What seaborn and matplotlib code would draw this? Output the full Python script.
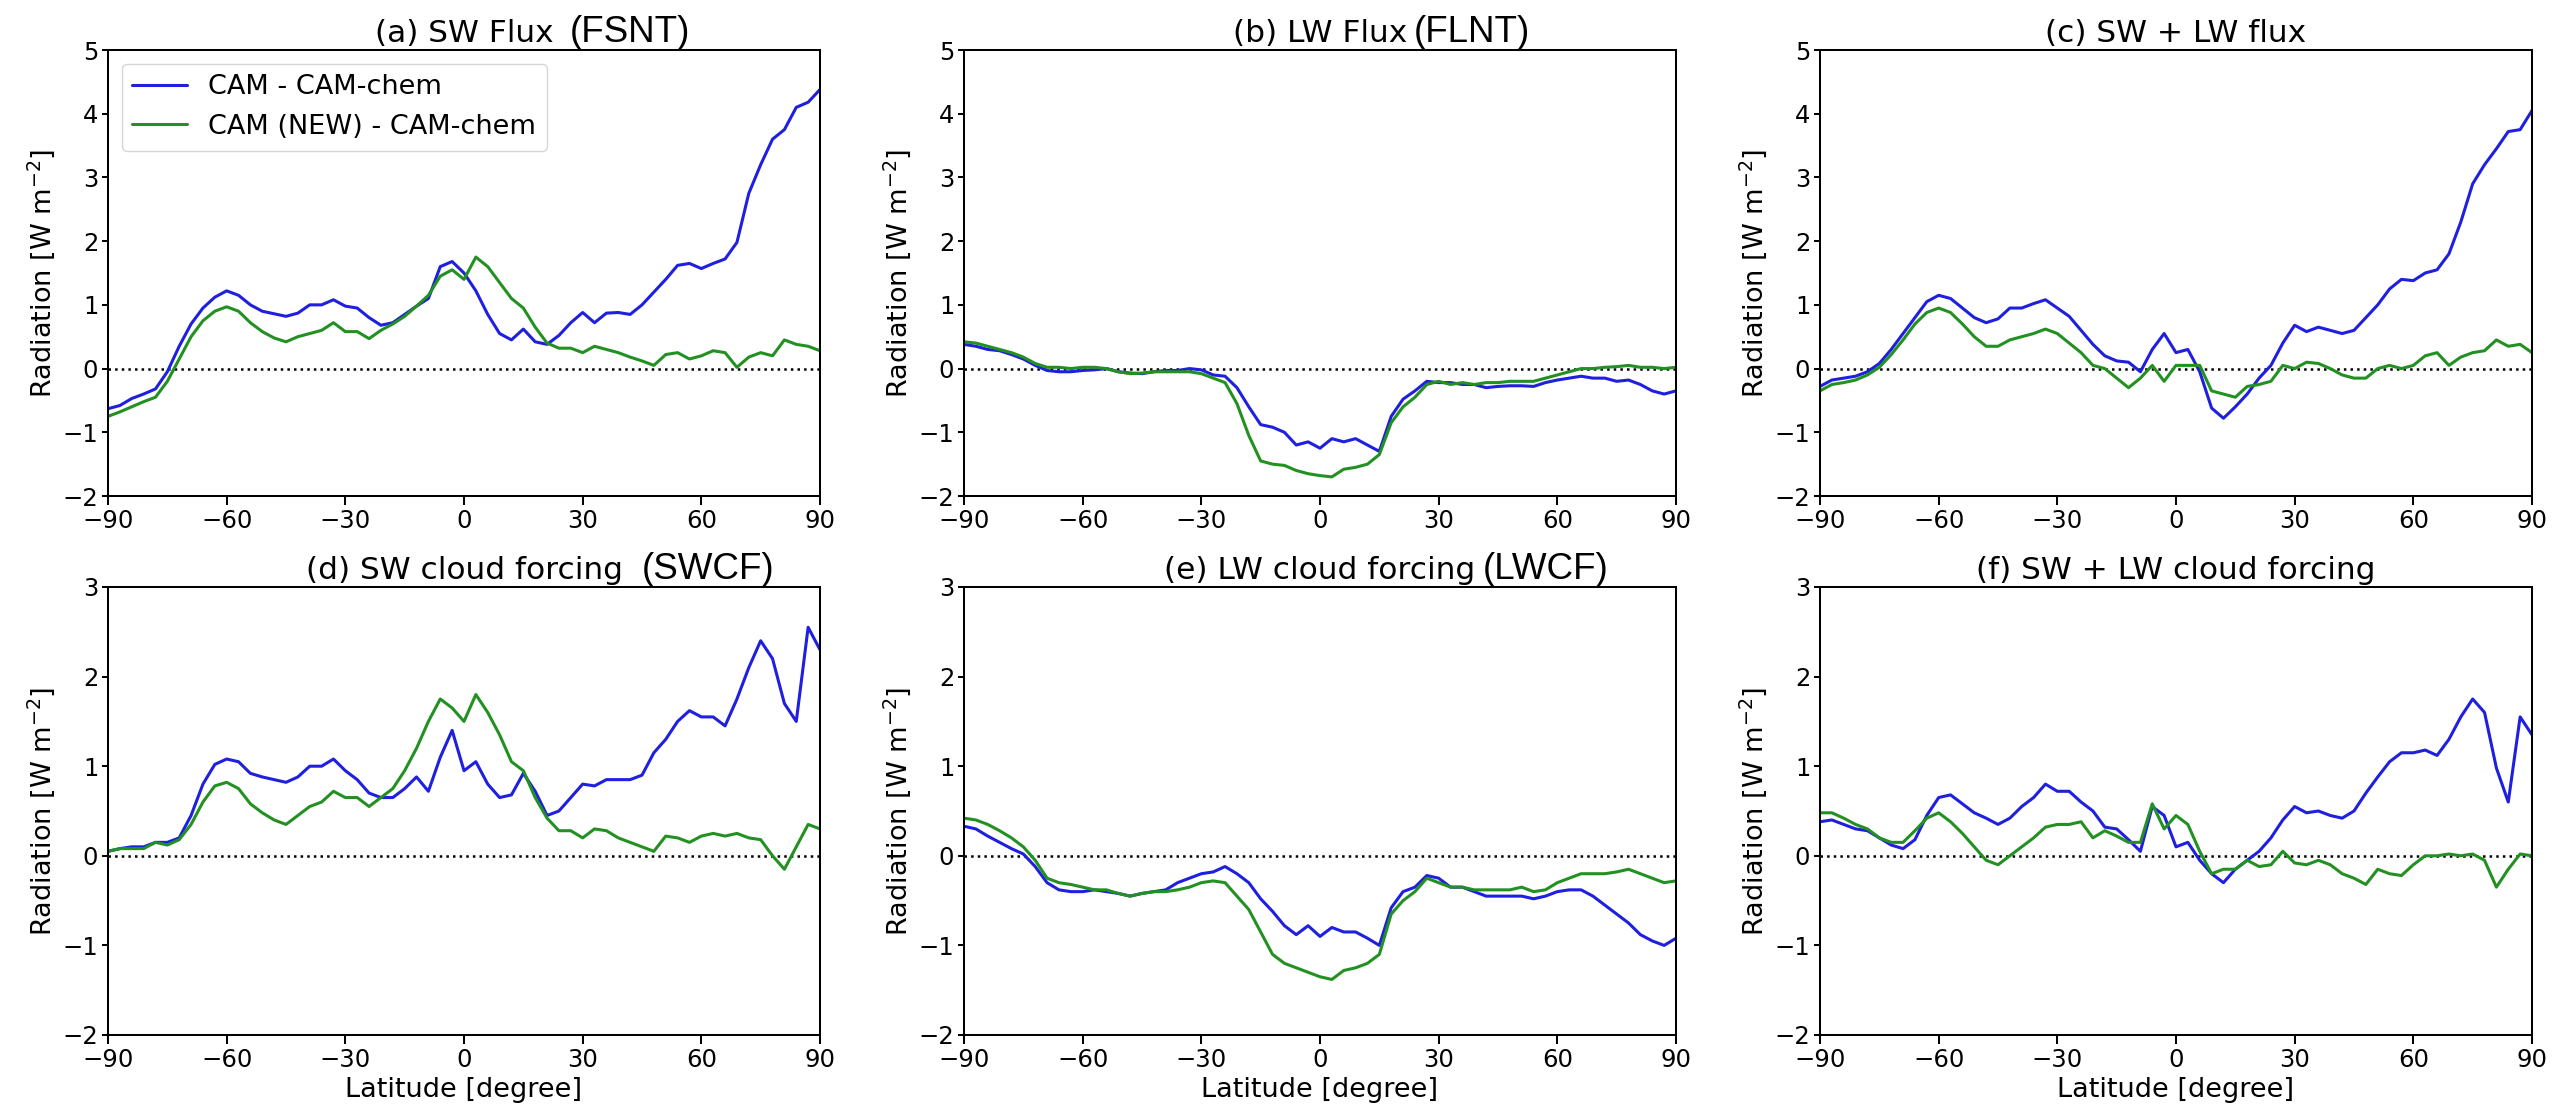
import matplotlib
matplotlib.use("Agg")
import matplotlib.pyplot as plt
import seaborn as sns
import pandas as pd

# latitude grid (degrees)
lat = [-90, -87, -84, -81, -78, -75, -72, -69, -66, -63,
       -60, -57, -54, -51, -48, -45, -42, -39, -36, -33,
       -30, -27, -24, -21, -18, -15, -12, -9, -6, -3,
       0, 3, 6, 9, 12, 15, 18, 21, 24, 27,
       30, 33, 36, 39, 42, 45, 48, 51, 54, 57,
       60, 63, 66, 69, 72, 75, 78, 81, 84, 87,
       90]

series_names = ["CAM - CAM-chem", "CAM (NEW) - CAM-chem"]

# (a) SW flux
a_cam = [-0.63, -0.58, -0.47, -0.40, -0.32, -0.05, 0.35, 0.70, 0.95, 1.12,
         1.22, 1.15, 1.00, 0.90, 0.86, 0.82, 0.87, 1.00, 1.00, 1.08,
         0.98, 0.95, 0.80, 0.68, 0.72, 0.85, 0.98, 1.10, 1.60, 1.68,
         1.50, 1.22, 0.85, 0.55, 0.45, 0.62, 0.42, 0.38, 0.52, 0.72,
         0.88, 0.72, 0.87, 0.88, 0.85, 1.00, 1.20, 1.40, 1.62, 1.65,
         1.57, 1.65, 1.72, 1.98, 2.75, 3.20, 3.60, 3.75, 4.10, 4.18,
         4.38]
a_new = [-0.75, -0.68, -0.60, -0.52, -0.45, -0.20, 0.15, 0.50, 0.75, 0.90,
         0.97, 0.90, 0.72, 0.58, 0.48, 0.42, 0.50, 0.55, 0.60, 0.72,
         0.58, 0.58, 0.47, 0.60, 0.70, 0.82, 0.98, 1.15, 1.45, 1.55,
         1.40, 1.75, 1.60, 1.35, 1.10, 0.95, 0.65, 0.40, 0.32, 0.32,
         0.25, 0.35, 0.30, 0.25, 0.18, 0.12, 0.05, 0.22, 0.25, 0.15,
         0.20, 0.28, 0.25, 0.02, 0.18, 0.25, 0.20, 0.45, 0.38, 0.35,
         0.28]

# (b) LW flux
b_cam = [0.38, 0.35, 0.30, 0.28, 0.22, 0.15, 0.05, -0.03, -0.05, -0.05,
         -0.03, -0.02, 0.00, -0.05, -0.07, -0.08, -0.05, -0.03, -0.03, 0.00,
         -0.02, -0.10, -0.12, -0.30, -0.60, -0.88, -0.92, -1.00, -1.20, -1.15,
         -1.25, -1.10, -1.15, -1.10, -1.20, -1.30, -0.75, -0.48, -0.35, -0.20,
         -0.22, -0.22, -0.25, -0.25, -0.30, -0.28, -0.27, -0.27, -0.28, -0.22,
         -0.18, -0.15, -0.12, -0.15, -0.15, -0.20, -0.18, -0.25, -0.35, -0.40,
         -0.35]
b_new = [0.42, 0.40, 0.35, 0.30, 0.25, 0.18, 0.08, 0.02, 0.02, 0.00,
         0.02, 0.02, 0.00, -0.05, -0.08, -0.07, -0.05, -0.05, -0.05, -0.05,
         -0.08, -0.15, -0.22, -0.55, -1.05, -1.45, -1.50, -1.52, -1.60, -1.65,
         -1.68, -1.70, -1.58, -1.55, -1.50, -1.35, -0.85, -0.60, -0.45, -0.25,
         -0.20, -0.25, -0.22, -0.25, -0.22, -0.22, -0.20, -0.20, -0.20, -0.15,
         -0.10, -0.05, 0.00, 0.00, 0.02, 0.03, 0.05, 0.02, 0.02, 0.00,
         0.02]

# (c) SW + LW flux
c_cam = [-0.28, -0.18, -0.15, -0.12, -0.05, 0.08, 0.30, 0.55, 0.80, 1.05,
         1.15, 1.10, 0.95, 0.80, 0.72, 0.78, 0.95, 0.95, 1.02, 1.08,
         0.95, 0.82, 0.60, 0.38, 0.20, 0.12, 0.10, -0.05, 0.30, 0.55,
         0.25, 0.30, -0.05, -0.62, -0.78, -0.60, -0.40, -0.15, 0.05, 0.40,
         0.68, 0.58, 0.65, 0.60, 0.55, 0.60, 0.80, 1.00, 1.25, 1.40,
         1.38, 1.50, 1.55, 1.80, 2.30, 2.90, 3.20, 3.45, 3.72, 3.75,
         4.05]
c_new = [-0.35, -0.25, -0.22, -0.18, -0.10, 0.02, 0.22, 0.45, 0.70, 0.88,
         0.95, 0.88, 0.70, 0.50, 0.35, 0.35, 0.45, 0.50, 0.55, 0.62,
         0.55, 0.40, 0.25, 0.05, 0.00, -0.15, -0.30, -0.15, 0.05, -0.20,
         0.05, 0.05, 0.05, -0.35, -0.40, -0.45, -0.28, -0.25, -0.20, 0.05,
         0.00, 0.10, 0.08, 0.00, -0.10, -0.15, -0.15, 0.00, 0.05, 0.00,
         0.05, 0.20, 0.25, 0.05, 0.18, 0.25, 0.28, 0.45, 0.35, 0.38,
         0.25]

# (d) SW cloud forcing
d_cam = [0.05, 0.08, 0.10, 0.10, 0.15, 0.15, 0.20, 0.45, 0.80, 1.02,
         1.08, 1.05, 0.92, 0.88, 0.85, 0.82, 0.88, 1.00, 1.00, 1.08,
         0.95, 0.85, 0.70, 0.65, 0.65, 0.75, 0.88, 0.72, 1.10, 1.40,
         0.95, 1.05, 0.80, 0.65, 0.68, 0.92, 0.72, 0.45, 0.50, 0.65,
         0.80, 0.78, 0.85, 0.85, 0.85, 0.90, 1.15, 1.30, 1.50, 1.62,
         1.55, 1.55, 1.45, 1.75, 2.10, 2.40, 2.20, 1.70, 1.50, 2.55,
         2.30]
d_new = [0.05, 0.08, 0.08, 0.08, 0.15, 0.12, 0.18, 0.35, 0.60, 0.78,
         0.82, 0.75, 0.58, 0.48, 0.40, 0.35, 0.45, 0.55, 0.60, 0.72,
         0.65, 0.65, 0.55, 0.65, 0.75, 0.95, 1.20, 1.50, 1.75, 1.65,
         1.50, 1.80, 1.60, 1.35, 1.05, 0.95, 0.65, 0.42, 0.28, 0.28,
         0.20, 0.30, 0.28, 0.20, 0.15, 0.10, 0.05, 0.22, 0.20, 0.15,
         0.22, 0.25, 0.22, 0.25, 0.20, 0.18, 0.00, -0.15, 0.10, 0.35,
         0.30]

# (e) LW cloud forcing
e_cam = [0.33, 0.30, 0.22, 0.15, 0.08, 0.02, -0.12, -0.30, -0.38, -0.40,
         -0.40, -0.38, -0.40, -0.42, -0.45, -0.42, -0.40, -0.38, -0.30, -0.25,
         -0.20, -0.18, -0.12, -0.20, -0.30, -0.48, -0.62, -0.78, -0.88, -0.78,
         -0.90, -0.80, -0.85, -0.85, -0.92, -1.00, -0.58, -0.40, -0.35, -0.22,
         -0.25, -0.35, -0.35, -0.40, -0.45, -0.45, -0.45, -0.45, -0.48, -0.45,
         -0.40, -0.38, -0.38, -0.45, -0.55, -0.65, -0.75, -0.88, -0.95, -1.00,
         -0.92]
e_new = [0.42, 0.40, 0.35, 0.28, 0.20, 0.10, -0.05, -0.25, -0.30, -0.32,
         -0.35, -0.38, -0.38, -0.42, -0.45, -0.42, -0.40, -0.40, -0.38, -0.35,
         -0.30, -0.28, -0.30, -0.45, -0.60, -0.85, -1.10, -1.20, -1.25, -1.30,
         -1.35, -1.38, -1.28, -1.25, -1.20, -1.10, -0.65, -0.50, -0.40, -0.25,
         -0.30, -0.35, -0.35, -0.38, -0.38, -0.38, -0.38, -0.35, -0.40, -0.38,
         -0.30, -0.25, -0.20, -0.20, -0.20, -0.18, -0.15, -0.20, -0.25, -0.30,
         -0.28]

# (f) SW + LW cloud forcing
f_cam = [0.38, 0.40, 0.35, 0.30, 0.28, 0.20, 0.12, 0.08, 0.18, 0.45,
         0.65, 0.68, 0.58, 0.48, 0.42, 0.35, 0.42, 0.55, 0.65, 0.80,
         0.72, 0.72, 0.60, 0.50, 0.32, 0.30, 0.18, 0.05, 0.55, 0.45,
         0.10, 0.15, -0.05, -0.20, -0.30, -0.15, -0.05, 0.05, 0.20, 0.40,
         0.55, 0.48, 0.50, 0.45, 0.42, 0.50, 0.70, 0.88, 1.05, 1.15,
         1.15, 1.18, 1.12, 1.30, 1.55, 1.75, 1.60, 0.98, 0.60, 1.55,
         1.35]
f_new = [0.48, 0.48, 0.42, 0.35, 0.30, 0.20, 0.15, 0.15, 0.28, 0.42,
         0.48, 0.38, 0.25, 0.10, -0.05, -0.10, 0.00, 0.10, 0.20, 0.32,
         0.35, 0.35, 0.38, 0.20, 0.28, 0.22, 0.15, 0.15, 0.58, 0.30,
         0.45, 0.35, 0.05, -0.20, -0.15, -0.15, -0.05, -0.12, -0.10, 0.05,
         -0.08, -0.10, -0.05, -0.10, -0.20, -0.25, -0.32, -0.15, -0.20, -0.22,
         -0.10, 0.00, 0.00, 0.02, 0.00, 0.02, -0.05, -0.35, -0.15, 0.02,
         0.00]

titles = ["(a) SW Flux", "(b) LW Flux", "(c) SW + LW flux",
          "(d) SW cloud forcing", "(e) LW cloud forcing", "(f) SW + LW cloud forcing"]
# variable names pasted next to some titles
title_tags = ["(FSNT)", "(FLNT)", None, "(SWCF)", "(LWCF)", None]
tag_x = [0.648, 0.631, None, 0.749, 0.729, None]

panels = [(a_cam, a_new), (b_cam, b_new), (c_cam, c_new),
          (d_cam, d_new), (e_cam, e_new), (f_cam, f_new)]

sns.set_style("ticks", {"axes.edgecolor": "black", "text.color": "black",
                        "axes.labelcolor": "black", "xtick.color": "black",
                        "ytick.color": "black"})
plt.rcParams["font.family"] = ["DejaVu Sans"]
plt.rcParams["axes.linewidth"] = 1.45

palette = {"CAM - CAM-chem": "#1f1fe0", "CAM (NEW) - CAM-chem": "#229122"}

fig = plt.figure(figsize=(25.52, 11.12), dpi=100)
lefts = [108, 964, 1820]
W, H = 2552, 1112

for i, (cam, new) in enumerate(panels):
    row, col = divmod(i, 3)
    if row == 0:
        top, bot = 50, 496
    else:
        top, bot = 587, 1035
    ax = fig.add_axes([lefts[col] / W, 1 - bot / H, 712 / W, (bot - top) / H])

    df = pd.DataFrame({
        "lat": lat + lat,
        "val": cam + new,
        "run": [series_names[0]] * len(lat) + [series_names[1]] * len(lat),
    })
    sns.lineplot(data=df, x="lat", y="val", hue="run", palette=palette,
                 linewidth=2.2, ax=ax, legend=(i == 0))
    ax.axhline(0, color="black", linestyle=":", linewidth=1.8, zorder=1)

    ax.set_xlim(-90, 90)
    ax.set_xticks([-90, -60, -30, 0, 30, 60, 90])
    if row == 0:
        ax.set_ylim(-2, 5)
        ax.set_yticks([-2, -1, 0, 1, 2, 3, 4, 5])
        ax.set_xlabel("")
    else:
        ax.set_ylim(-2, 3)
        ax.set_yticks([-2, -1, 0, 1, 2, 3])
        ax.set_xlabel("Latitude [degree]", fontsize=19.5)
    ax.set_ylabel("Radiation [W m$^{-2}$]", fontsize=19.5)
    ax.tick_params(labelsize=17.5, width=1.45, pad=3)
    ax.tick_params(axis="x", length=6.3)
    ax.tick_params(axis="y", length=4.0)
    for sp in ax.spines.values():
        sp.set_visible(True)

    ax.set_title(titles[i], fontsize=22.5, pad=6)
    if title_tags[i]:
        ax.annotate(title_tags[i], xy=(tag_x[i], 1.0), xycoords="axes fraction",
                    xytext=(0, 6), textcoords="offset points",
                    ha="left", va="baseline", fontsize=26.5,
                    family=["Liberation Sans", "DejaVu Sans"])

    if i == 0:
        handles, labels = ax.get_legend_handles_labels()
        ax.legend(handles, labels, loc="upper left", fontsize=19.5,
                  frameon=True, borderaxespad=0.5)

fig.savefig("out.png", dpi=100)
